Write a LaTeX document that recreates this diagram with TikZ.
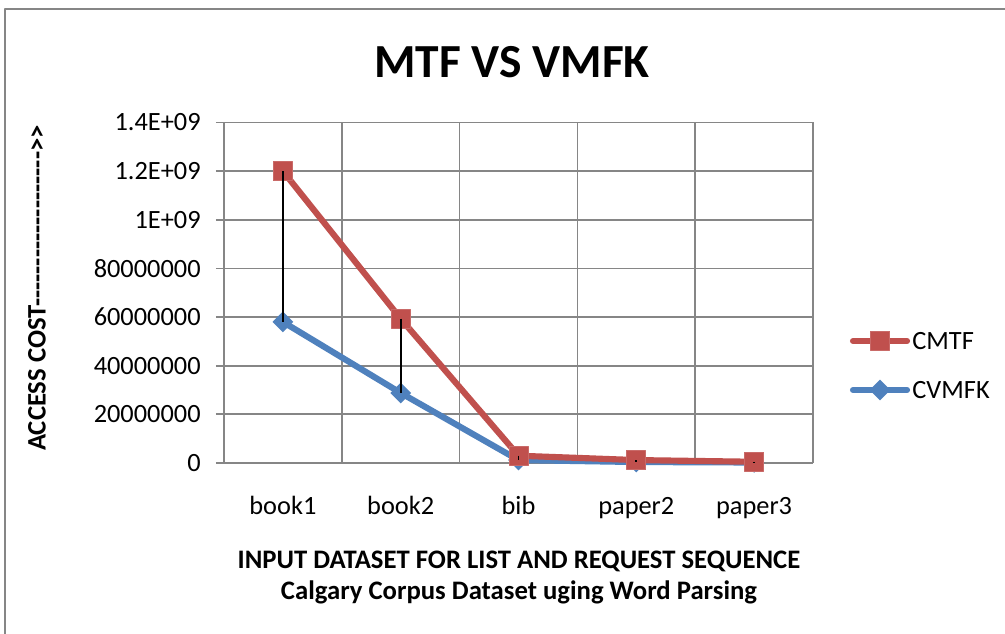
\documentclass[tikz,border=0pt]{standalone}
\usepackage{fontspec}
\setmainfont{Carlito}[Ligatures=TeXOff]
\usetikzlibrary{shapes.geometric,positioning}
\definecolor{chartgrid}{HTML}{868686}
\definecolor{mtfred}{HTML}{C0504D}
\definecolor{vmfkblue}{HTML}{4F81BD}

\begin{document}
\begin{tikzpicture}[line join=round,
  font=\fontsize{15}{18}\selectfont,
  gridline/.style={chartgrid,line width=1pt},
  series/.style={line width=3.5pt,line cap=round},
  sqmark/.style={rectangle,inner sep=0pt,minimum size=.38cm,fill=mtfred,draw=mtfred!85!white,line width=.4pt},
  dmmark/.style={diamond,inner sep=0pt,minimum size=.42cm,fill=vmfkblue},
  hilo/.style={black,line width=1pt},
  ytick/.style={anchor=east,inner sep=0pt,xshift=-.46cm},
  catlabel/.style={anchor=base,inner sep=0pt,yshift=-1.04cm},
  axtitle/.style={font=\fontsize{15.2}{18}\selectfont\bfseries,inner sep=0pt}]
\path[use as bounding box] (0,0) rectangle (20.1,12.68);
\fill[white] (0,0) rectangle (20.1,12.68);
\draw[chartgrid,line width=1.1pt] (0.1,0) |- (20.1,12.5);

% titles
\node[font=\fontsize{27}{32}\selectfont\bfseries] (title) at (10.24,11.44) {MTF VS VMFK};
\node[axtitle,rotate=90] (ytitle) at (0.74,6.92) {ACCESS COST-------------------{>}{>}};
\node[axtitle,anchor=base] (xtitleA) at (10.38,1.31) {INPUT DATASET FOR LIST AND REQUEST SEQUENCE};
\node[axtitle,anchor=base] (xtitleB) at (10.38,0.68) {Calgary Corpus Dataset uging Word Parsing};

% plot area: x in categories, y in units of 1E+08
\begin{scope}[shift={(4.48,3.42)},x=2.356cm,y=.4865cm]
  \foreach \y in {0,2,...,14} \draw[gridline] (-.068,\y) -- (5,\y);
  \foreach \x in {0,...,5} \draw[gridline] (\x,0) -- (\x,14);
  \foreach \y/\t in {0/0,2/20000000,4/40000000,6/60000000,8/80000000,10/1E+09,12/1.2E+09,14/1.4E+09}
    \node[ytick] (y\y) at (0,\y) {\t};
  \foreach \i/\t in {1/book1,2/book2,3/bib,4/paper2,5/paper3}
    \node[catlabel] (c\i) at (\i-.5,0) {\t};

  \foreach \i/\r/\b in {1/12/5.8,2/5.93/2.88,3/.3/.12,4/.12/.04,5/.05/.02} {
    \coordinate (r\i) at (\i-.5,\r);
    \coordinate (b\i) at (\i-.5,\b);
  }
  \draw[series,vmfkblue] (b1) -- (b2) -- (b3) -- (b4) -- (b5);
  \foreach \i in {1,...,5} \node[dmmark] (bm\i) at (b\i) {};
  \draw[series,mtfred] (r1) -- (r2) -- (r3) -- (r4) -- (r5);
  \foreach \i in {1,...,5} \node[sqmark] (rm\i) at (r\i) {};
  \foreach \i in {1,...,5} \draw[hilo] (rm\i.center) -- (bm\i.center);
\end{scope}

% legend
\coordinate (lgrA) at (17.06,5.86);
\coordinate (lgrB) at (18.14,5.86);
\coordinate (lgbA) at (17.06,4.88);
\coordinate (lgbB) at (18.14,4.88);
\draw[series,mtfred] (lgrA) -- (lgrB);
\node[sqmark] (lgr) at (17.6,5.86) {};
\draw[series,vmfkblue] (lgbA) -- (lgbB);
\node[dmmark] (lgb) at (17.6,4.88) {};
\node[anchor=west,inner sep=0pt] (lgrtext) at (18.24,5.86) {CMTF};
\node[anchor=west,inner sep=0pt] (lgbtext) at (18.24,4.88) {CVMFK};
\end{tikzpicture}
\end{document}
